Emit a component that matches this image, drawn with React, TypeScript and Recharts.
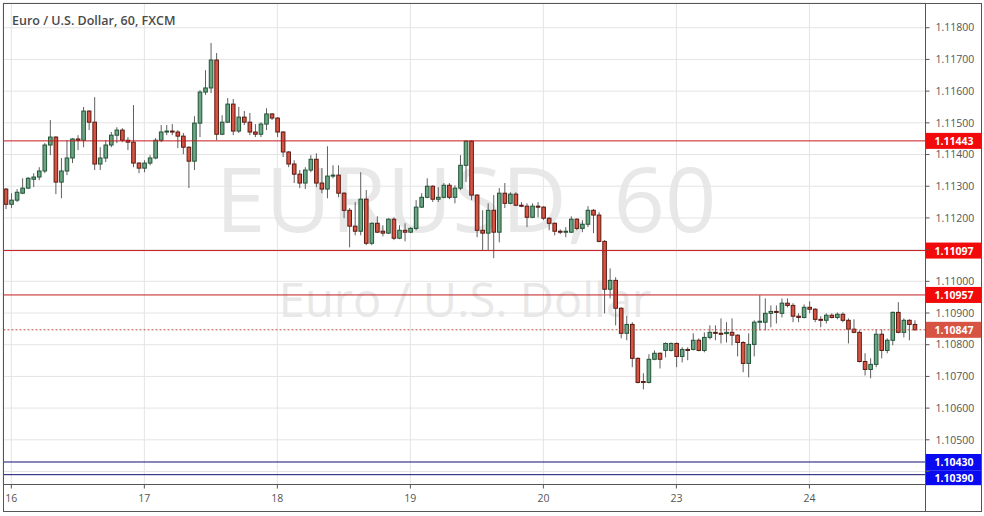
import React from 'react';
import { ComposedChart, Bar, XAxis, YAxis, CartesianGrid, ReferenceLine } from 'recharts';

// EUR/USD, 60 min, FXCM — hourly candles from 15th 23:00 to 24th 19:00
const opens = [
  1.11291, 1.11243, 1.11256, 1.11278, 1.11294, 1.11322, 1.11329, 1.11348, 1.11430, 1.11455, 1.11313, 1.11348,
  1.11389, 1.11449, 1.11445, 1.11537, 1.11502, 1.11370, 1.11389, 1.11430, 1.11461, 1.11477, 1.11445, 1.11439,
  1.11373, 1.11357, 1.11373, 1.11389, 1.11445, 1.11471, 1.11474, 1.11471, 1.11458, 1.11423, 1.11379, 1.11499,
  1.11597, 1.11610, 1.11698, 1.11464, 1.11502, 1.11559, 1.11474, 1.11518, 1.11502, 1.11471, 1.11464, 1.11496,
  1.11528, 1.11515, 1.11471, 1.11408, 1.11370, 1.11338, 1.11310, 1.11351, 1.11385, 1.11310, 1.11291, 1.11332,
  1.11335, 1.11278, 1.11224, 1.11174, 1.11158, 1.11259, 1.11120, 1.11183, 1.11158, 1.11152, 1.11196, 1.11136,
  1.11161, 1.11155, 1.11167, 1.11234, 1.11265, 1.11300, 1.11259, 1.11265, 1.11303, 1.11265, 1.11294, 1.11366,
  1.11442, 1.11272, 1.11161, 1.11152, 1.11224, 1.11155, 1.11278, 1.11246, 1.11275, 1.11240, 1.11237, 1.11202,
  1.11237, 1.11234, 1.11199, 1.11183, 1.11158, 1.11155, 1.11155, 1.11196, 1.11167, 1.11180, 1.11224, 1.11209,
  1.11126, 1.10975, 1.11003, 1.10915, 1.10836, 1.10864, 1.10757, 1.10684, 1.10681, 1.10754, 1.10773, 1.10782,
  1.10782, 1.10804, 1.10763, 1.10785, 1.10785, 1.10814, 1.10782, 1.10823, 1.10839, 1.10836, 1.10835, 1.10839,
  1.10830, 1.10807, 1.10741, 1.10801, 1.10871, 1.10871, 1.10899, 1.10905, 1.10899, 1.10931, 1.10924, 1.10890,
  1.10886, 1.10918, 1.10912, 1.10880, 1.10877, 1.10893, 1.10886, 1.10896, 1.10877, 1.10849, 1.10839, 1.10747,
  1.10722, 1.10738, 1.10833, 1.10782, 1.10814, 1.10902, 1.10839, 1.10877, 1.10864,
];

const highs = [
  1.11294, 1.11278, 1.11291, 1.11325, 1.11329, 1.11341, 1.11360, 1.11436, 1.11509, 1.11458, 1.11389, 1.11445,
  1.11452, 1.11461, 1.11550, 1.11540, 1.11581, 1.11423, 1.11445, 1.11471, 1.11486, 1.11483, 1.11455, 1.11556,
  1.11376, 1.11382, 1.11398, 1.11452, 1.11493, 1.11493, 1.11496, 1.11477, 1.11468, 1.11426, 1.11521, 1.11603,
  1.11666, 1.11752, 1.11720, 1.11524, 1.11578, 1.11575, 1.11550, 1.11537, 1.11531, 1.11496, 1.11502, 1.11546,
  1.11531, 1.11518, 1.11474, 1.11411, 1.11382, 1.11351, 1.11360, 1.11398, 1.11404, 1.11357, 1.11426, 1.11366,
  1.11366, 1.11281, 1.11231, 1.11250, 1.11344, 1.11288, 1.11186, 1.11205, 1.11177, 1.11199, 1.11202, 1.11177,
  1.11183, 1.11171, 1.11256, 1.11278, 1.11325, 1.11303, 1.11297, 1.11310, 1.11310, 1.11303, 1.11398, 1.11445,
  1.11445, 1.11275, 1.11224, 1.11246, 1.11272, 1.11294, 1.11310, 1.11281, 1.11281, 1.11250, 1.11246, 1.11246,
  1.11250, 1.11237, 1.11202, 1.11186, 1.11164, 1.11171, 1.11205, 1.11199, 1.11193, 1.11237, 1.11228, 1.11218,
  1.11130, 1.11041, 1.11013, 1.10918, 1.10890, 1.10871, 1.10760, 1.10710, 1.10770, 1.10782, 1.10776, 1.10807,
  1.10807, 1.10807, 1.10792, 1.10792, 1.10836, 1.10820, 1.10839, 1.10861, 1.10861, 1.10883, 1.10871, 1.10883,
  1.10833, 1.10811, 1.10836, 1.10877, 1.10956, 1.10946, 1.10924, 1.10924, 1.10946, 1.10946, 1.10931, 1.10899,
  1.10927, 1.10937, 1.10915, 1.10890, 1.10899, 1.10899, 1.10902, 1.10902, 1.10883, 1.10880, 1.10845, 1.10773,
  1.10757, 1.10849, 1.10849, 1.10820, 1.10905, 1.10934, 1.10883, 1.10880, 1.10877,
];

const lows = [
  1.11228, 1.11231, 1.11250, 1.11275, 1.11291, 1.11297, 1.11319, 1.11341, 1.11398, 1.11275, 1.11262, 1.11335,
  1.11373, 1.11414, 1.11423, 1.11477, 1.11351, 1.11351, 1.11376, 1.11423, 1.11436, 1.11439, 1.11414, 1.11360,
  1.11341, 1.11344, 1.11366, 1.11385, 1.11439, 1.11461, 1.11461, 1.11420, 1.11401, 1.11294, 1.11351, 1.11455,
  1.11588, 1.11594, 1.11445, 1.11461, 1.11499, 1.11461, 1.11468, 1.11493, 1.11461, 1.11455, 1.11455, 1.11477,
  1.11509, 1.11455, 1.11392, 1.11360, 1.11310, 1.11294, 1.11291, 1.11344, 1.11297, 1.11278, 1.11262, 1.11325,
  1.11265, 1.11199, 1.11107, 1.11145, 1.11145, 1.11114, 1.11114, 1.11152, 1.11142, 1.11149, 1.11130, 1.11133,
  1.11126, 1.11152, 1.11161, 1.11231, 1.11262, 1.11250, 1.11250, 1.11262, 1.11259, 1.11246, 1.11288, 1.11313,
  1.11256, 1.11139, 1.11098, 1.11098, 1.11073, 1.11123, 1.11231, 1.11243, 1.11237, 1.11234, 1.11171, 1.11199,
  1.11202, 1.11193, 1.11161, 1.11145, 1.11149, 1.11139, 1.11152, 1.11161, 1.11155, 1.11171, 1.11152, 1.11123,
  1.10899, 1.10946, 1.10861, 1.10820, 1.10814, 1.10729, 1.10678, 1.10659, 1.10678, 1.10751, 1.10725, 1.10760,
  1.10779, 1.10729, 1.10744, 1.10751, 1.10782, 1.10779, 1.10776, 1.10817, 1.10814, 1.10804, 1.10807, 1.10798,
  1.10763, 1.10713, 1.10697, 1.10763, 1.10845, 1.10845, 1.10855, 1.10867, 1.10886, 1.10918, 1.10871, 1.10871,
  1.10883, 1.10899, 1.10871, 1.10855, 1.10867, 1.10883, 1.10880, 1.10871, 1.10804, 1.10836, 1.10744, 1.10703,
  1.10694, 1.10729, 1.10757, 1.10773, 1.10798, 1.10836, 1.10823, 1.10814, 1.10845,
];

const closes = [
  1.11243, 1.11256, 1.11281, 1.11294, 1.11325, 1.11329, 1.11348, 1.11430, 1.11455, 1.11313, 1.11348, 1.11389,
  1.11449, 1.11445, 1.11537, 1.11502, 1.11370, 1.11389, 1.11430, 1.11461, 1.11477, 1.11445, 1.11439, 1.11373,
  1.11357, 1.11373, 1.11389, 1.11445, 1.11471, 1.11474, 1.11471, 1.11458, 1.11423, 1.11379, 1.11499, 1.11597,
  1.11610, 1.11698, 1.11464, 1.11502, 1.11559, 1.11474, 1.11518, 1.11502, 1.11471, 1.11464, 1.11496, 1.11528,
  1.11515, 1.11471, 1.11408, 1.11370, 1.11338, 1.11310, 1.11351, 1.11385, 1.11310, 1.11291, 1.11332, 1.11335,
  1.11278, 1.11224, 1.11174, 1.11158, 1.11259, 1.11120, 1.11183, 1.11155, 1.11152, 1.11196, 1.11136, 1.11161,
  1.11155, 1.11167, 1.11234, 1.11265, 1.11300, 1.11259, 1.11265, 1.11303, 1.11265, 1.11294, 1.11366, 1.11442,
  1.11272, 1.11161, 1.11152, 1.11224, 1.11155, 1.11278, 1.11246, 1.11275, 1.11240, 1.11237, 1.11202, 1.11237,
  1.11234, 1.11199, 1.11183, 1.11158, 1.11155, 1.11158, 1.11196, 1.11167, 1.11180, 1.11224, 1.11209, 1.11126,
  1.10975, 1.11003, 1.10915, 1.10836, 1.10864, 1.10757, 1.10681, 1.10681, 1.10754, 1.10773, 1.10754, 1.10804,
  1.10804, 1.10763, 1.10785, 1.10783, 1.10814, 1.10782, 1.10823, 1.10839, 1.10836, 1.10835, 1.10839, 1.10830,
  1.10807, 1.10741, 1.10801, 1.10871, 1.10874, 1.10899, 1.10905, 1.10902, 1.10931, 1.10924, 1.10890, 1.10886,
  1.10918, 1.10912, 1.10880, 1.10877, 1.10893, 1.10886, 1.10896, 1.10877, 1.10849, 1.10839, 1.10747, 1.10722,
  1.10738, 1.10833, 1.10782, 1.10814, 1.10902, 1.10839, 1.10877, 1.10864, 1.10847,
];

// index of the first candle of each day, and its label
const dayTickIdx = [1, 25, 49, 73, 97, 121, 145];
const dayLabels = ['16', '17', '18', '19', '20', '23', '24'];

const priceTicks = [
  1.104, 1.105, 1.106, 1.107, 1.108, 1.109, 1.11, 1.111, 1.112, 1.113, 1.114, 1.115, 1.116, 1.117, 1.118,
];
// tick labels that sit under a price tag and are not drawn
const coveredTicks = [1.111, 1.104];

const redLevels = [1.11443, 1.11097, 1.10957];
const blueLevels = [1.1043, 1.1039];
const lastPrice = 1.10847;

const UP = '#6ba583';
const UP_BORDER = '#225437';
const DOWN = '#d75442';
const DOWN_BORDER = '#5b1a13';
const WICK = '#5f5f5f';
const AXIS = '#555555';
const FONT = '"Open Sans", sans-serif';

const data = opens.map((o, i) => ({
  i,
  o,
  h: highs[i],
  l: lows[i],
  c: closes[i],
  range: [lows[i], highs[i]],
}));

function Candle(props: any) {
  const { x, y, width, height, payload } = props;
  if (!payload || x == null) return null;
  const { o, h, l, c } = payload;
  const top = Math.min(y, y + height);
  const bottom = Math.max(y, y + height);
  const span = h - l || 1e-9;
  const toY = (p: number) => top + ((h - p) / span) * (bottom - top);
  const cx = x + width / 2;
  const yo = toY(o);
  const yc = toY(c);
  const bodyTop = Math.min(yo, yc);
  const bodyH = Math.max(Math.abs(yc - yo), 1);
  const up = c >= o;
  return (
    <g>
      <line x1={cx} x2={cx} y1={top} y2={bottom} stroke={WICK} strokeWidth={1} />
      <rect
        x={cx - 1.8}
        y={bodyTop}
        width={3.6}
        height={bodyH}
        fill={up ? UP : DOWN}
        stroke={up ? UP_BORDER : DOWN_BORDER}
        strokeWidth={1}
      />
    </g>
  );
}

function PriceTag(props: any) {
  const { viewBox, text, bg, shift = 0, h = 16 } = props;
  if (!viewBox) return null;
  const x = viewBox.x + viewBox.width;
  const cy = viewBox.y + shift;
  return (
    <g>
      <rect x={x} y={cy - h / 2} width={56} height={h} fill={bg} />
      <text x={x + 9} y={cy + 4} fill="#ffffff" fontSize={10.5} fontWeight={700} fontFamily={FONT}>
        {text}
      </text>
    </g>
  );
}

function PriceTick(props: any) {
  const { x, y, payload } = props;
  const v = payload?.value;
  if (v == null || coveredTicks.some((t) => Math.abs(t - v) < 1e-7)) return null;
  return (
    <text x={x} y={y} dy="0.355em" textAnchor="start" fill={AXIS} fontSize={10.5} fontFamily={FONT}>
      {Number(v).toFixed(5)}
    </text>
  );
}

export default function App() {
  return (
    <div style={{ position: 'absolute', left: 0, top: 0, width: 984, height: 516, background: '#ffffff' }}>
      {/* watermark */}
      <svg width={984} height={516} style={{ position: 'absolute', left: 0, top: 0 }}>
        <text x={466} y={232} textAnchor="middle" fontSize={90} fontFamily={FONT} fill="#e8e8e8">
          EURUSD, 60
        </text>
        <text x={465} y={317} textAnchor="middle" fontSize={47} fontFamily={FONT} fill="#e8e8e8">
          Euro / U.S. Dollar
        </text>
      </svg>

      <div style={{ position: 'absolute', left: 0, top: 0 }}>
        <ComposedChart
          width={984}
          height={516}
          data={data}
          margin={{ top: 3, right: 1.5, bottom: 5.5, left: 3 }}
          barCategoryGap={0}
        >
          <CartesianGrid stroke="#e4e4e4" />
          <XAxis
            dataKey="i"
            type="category"
            ticks={dayTickIdx}
            interval={0}
            tickFormatter={(v: number) => dayLabels[dayTickIdx.indexOf(v)] ?? ''}
            height={26}
            tickSize={4}
            tickMargin={6}
            stroke={AXIS}
            tick={{ fill: AXIS, fontSize: 10.5, fontFamily: FONT }}
            padding={{ left: 0, right: 8 }}
          />
          <YAxis
            orientation="right"
            type="number"
            domain={[1.10359, 1.11878]}
            ticks={priceTicks}
            interval={0}
            allowDataOverflow
            width={57}
            tickSize={4}
            tickMargin={6}
            stroke={AXIS}
            tick={(p: any) => <PriceTick {...p} />}
          />
          <Bar dataKey="range" shape={(p: any) => <Candle {...p} />} isAnimationActive={false} />
          <ReferenceLine
            y={lastPrice}
            stroke="#b8503f"
            strokeDasharray="2 2"
            ifOverflow="visible"
            label={(p: any) => <PriceTag {...p} text={lastPrice.toFixed(5)} bg="#d75442" />}
          />
          {redLevels.map((v) => (
            <ReferenceLine
              key={v}
              y={v}
              stroke="#c41a1e"
              ifOverflow="visible"
              label={(p: any) => <PriceTag {...p} text={v.toFixed(5)} bg="#f20a0a" />}
            />
          ))}
          {blueLevels.map((v, k) => (
            <ReferenceLine
              key={v}
              y={v}
              stroke="#121270"
              ifOverflow="visible"
              label={(p: any) => (
                <PriceTag {...p} text={v.toFixed(5)} bg="#0a0af0" shift={k === 1 ? 3 : 0} h={k === 1 ? 15 : 16} />
              )}
            />
          ))}
        </ComposedChart>
      </div>

      {/* frame and title */}
      <svg width={984} height={516} style={{ position: 'absolute', left: 0, top: 0, pointerEvents: 'none' }}>
        <rect x={3.5} y={3.5} width={978} height={508} fill="none" stroke={AXIS} strokeWidth={1} />
        <line x1={925.5} x2={925.5} y1={484} y2={511.5} stroke={AXIS} strokeWidth={1} />
        <text x={12} y={24.5} fontSize={12.5} fontWeight={600} fontFamily={FONT} fill="#4a4a4a">
          Euro / U.S. Dollar, 60, FXCM
        </text>
      </svg>
    </div>
  );
}
